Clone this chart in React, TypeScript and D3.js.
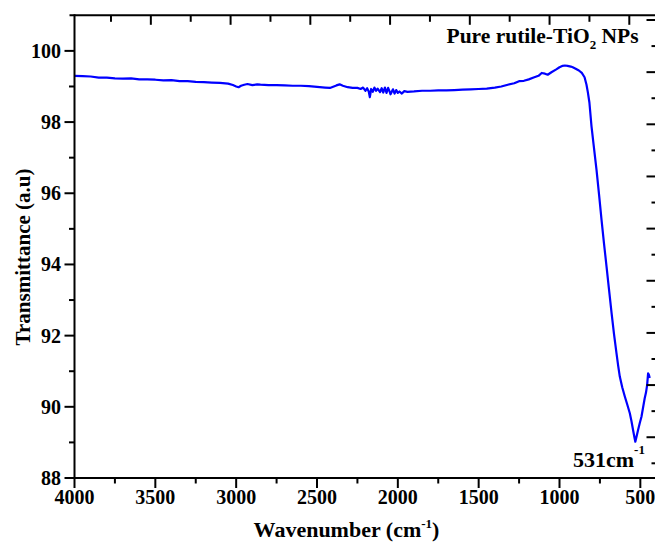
import React from "react";
import * as d3 from "d3";

const wavenumbers = [
  4000, 3950, 3900, 3850, 3800, 3750, 3700, 3650, 3600, 3550, 3500, 3450, 3400, 3350, 3300, 3250, 3200, 3150, 3100, 3050,
  3020, 3000, 2985, 2970, 2950, 2930, 2900, 2870, 2850, 2800, 2750, 2700, 2650, 2600, 2550, 2500, 2450, 2420, 2380, 2360,
  2340, 2310, 2280, 2250, 2230, 2215, 2200, 2190, 2180, 2173, 2165, 2155, 2145, 2135, 2125, 2110, 2100, 2090, 2080, 2070,
  2060, 2050, 2045, 2030, 2020, 2010, 2000, 1990, 1975, 1960, 1940, 1900, 1850, 1800, 1750, 1700, 1650, 1600, 1550, 1500,
  1450, 1400, 1360, 1320, 1280, 1250, 1220, 1190, 1160, 1130, 1110, 1090, 1073, 1050, 1020, 1000, 980, 967, 950, 930,
  918, 900, 880, 862, 845, 833, 825, 815, 802, 790, 771, 755, 740, 725, 709, 695, 678, 663, 648, 637,
  627, 612, 596, 580, 565, 555, 545, 537, 531, 524, 514, 503, 493, 483, 473, 465, 458, 452, 447, 442,
];
const transmittance = [
  99.30, 99.29, 99.28, 99.25, 99.25, 99.23, 99.22, 99.23, 99.20, 99.20, 99.19, 99.17, 99.18, 99.15, 99.15, 99.13, 99.12, 99.11, 99.10, 99.08,
  99.04, 99.00, 98.98, 99.02, 99.05, 99.07, 99.04, 99.06, 99.05, 99.04, 99.04, 99.03, 99.02, 99.02, 99.01, 98.99, 98.97, 98.96, 99.03, 99.06,
  99.02, 98.98, 98.96, 98.96, 98.93, 98.97, 98.88, 98.95, 98.86, 98.70, 98.93, 98.85, 98.97, 98.88, 98.94, 98.84, 98.95, 98.83, 98.97, 98.82,
  98.96, 98.85, 98.78, 98.92, 98.80, 98.90, 98.82, 98.86, 98.80, 98.87, 98.85, 98.86, 98.88, 98.88, 98.89, 98.89, 98.90, 98.91, 98.92, 98.93,
  98.94, 98.97, 99.00, 99.05, 99.09, 99.15, 99.16, 99.20, 99.25, 99.30, 99.38, 99.36, 99.33, 99.40, 99.48, 99.54, 99.58, 99.59, 99.58, 99.56,
  99.54, 99.50, 99.45, 99.38, 99.26, 99.05, 98.85, 98.55, 97.88, 97.40, 96.66, 95.95, 95.25, 94.60, 93.94, 93.35, 92.64, 92.05, 91.52, 91.15,
  90.85, 90.55, 90.29, 90.05, 89.82, 89.60, 89.35, 89.15, 89.02, 89.15, 89.35, 89.55, 89.72, 89.98, 90.24, 90.40, 90.61, 90.94, 90.90, 90.81,
];

const xMajorTicks = [4000, 3500, 3000, 2500, 2000, 1500, 1000, 500];
const xMinorTicks = [3750, 3250, 2750, 2250, 1750, 1250, 750];
const yMajorTicks = [88, 90, 92, 94, 96, 98, 100];
const yMinorTicks = [89, 91, 93, 95, 97, 99];
const topTicks = d3.range(1, 15);
const rightTicks = d3.range(0, 18);

const seriesLabel = "Pure rutile-TiO";
const peakLabel = "531cm";

export default function App() {
  const W = 655;
  const H = 542;
  const left = 74.5;
  const bottom = 478;
  const top = 15.3;
  const rightEdge = 656.5;

  const x = d3.scaleLinear().domain([4000, 400]).range([left, rightEdge]);
  const y = d3.scaleLinear().domain([88, 101]).range([bottom, top]);
  const xTop = d3.scaleLinear().domain([0, 14]).range([71.1, 629.3]);
  const yRight = d3.scaleLinear().domain([0, 17]).range([20, 463.3]);

  const pts: [number, number][] = wavenumbers.map((w, i) => [w, transmittance[i]]);
  const line = d3
    .line<[number, number]>()
    .x((d) => x(d[0]))
    .y((d) => y(d[1]))
    .curve(d3.curveLinear);

  const font = "'Liberation Serif', 'Times New Roman', serif";
  const tickW = 2;

  return (
    <svg
      width={W}
      height={H}
      style={{ position: "absolute", left: 0, top: 0, background: "#fff" }}
      fontFamily={font}
      fontWeight="bold"
    >
      <rect x={0} y={0} width={W} height={H} fill="#fff" />
      {/* data line */}
      <path d={line(pts) || ""} fill="none" stroke="#0000ff" strokeWidth={2.2} strokeLinejoin="round" />

      {/* frame */}
      <line x1={left} x2={W + 5} y1={bottom} y2={bottom} stroke="#000" strokeWidth={2} />
      <line x1={left - 5} x2={W + 5} y1={top} y2={top} stroke="#000" strokeWidth={2} />
      <line x1={left} x2={left} y1={top - 1} y2={bottom + 1} stroke="#000" strokeWidth={2} />
      <line x1={rightEdge} x2={rightEdge} y1={top} y2={bottom} stroke="#000" strokeWidth={2} />

      {/* bottom ticks */}
      {xMajorTicks.map((t) => (
        <g key={"xm" + t}>
          <line x1={x(t)} x2={x(t)} y1={bottom} y2={bottom + 10} stroke="#000" strokeWidth={tickW} />
          <text x={x(t)} y={503.5} textAnchor="middle" fontSize={20}>
            {t}
          </text>
        </g>
      ))}
      {xMinorTicks.map((t) => (
        <line key={"xn" + t} x1={x(t)} x2={x(t)} y1={bottom} y2={bottom + 5.5} stroke="#000" strokeWidth={tickW} />
      ))}

      {/* left ticks */}
      {yMajorTicks.map((t) => (
        <g key={"ym" + t}>
          <line x1={left - 10} x2={left} y1={y(t)} y2={y(t)} stroke="#000" strokeWidth={tickW} />
          <text x={61} y={y(t) + 7} textAnchor="end" fontSize={20}>
            {t}
          </text>
        </g>
      ))}
      {yMinorTicks.map((t) => (
        <line key={"yn" + t} x1={left - 5.5} x2={left} y1={y(t)} y2={y(t)} stroke="#000" strokeWidth={tickW} />
      ))}

      {/* top ticks (inward) */}
      {topTicks.map((k) => (
        <line
          key={"tt" + k}
          x1={xTop(k)}
          x2={xTop(k)}
          y1={top}
          y2={top + (k % 2 === 0 ? 9.5 : 6.5)}
          stroke="#000"
          strokeWidth={tickW}
        />
      ))}

      {/* right ticks (inward) */}
      {rightTicks.map((k) => (
        <line
          key={"rt" + k}
          x1={rightEdge}
          x2={rightEdge - (k % 2 === 0 ? 10 : 5)}
          y1={yRight(k)}
          y2={yRight(k)}
          stroke="#000"
          strokeWidth={tickW}
        />
      ))}

      {/* axis titles */}
      <text x={346.5} y={537} textAnchor="middle" fontSize={22}>
        Wavenumber (cm
        <tspan fontSize={13} dy={-9}>-1</tspan>
        <tspan dy={9}>)</tspan>
      </text>
      <text
        transform={`translate(30, ${257}) rotate(-90)`}
        textAnchor="middle"
        fontSize={21}
      >
        Transmittance (a.u)
      </text>

      {/* legend text */}
      <text x={446.5} y={43.3} fontSize={21.5}>
        {seriesLabel}
        <tspan fontSize={13} dy={6}>2</tspan>
        <tspan dy={-6}> NPs</tspan>
      </text>

      {/* peak annotation */}
      <text x={573} y={466.7} fontSize={22}>
        {peakLabel}
        <tspan fontSize={13} dy={-13}>-1</tspan>
      </text>
    </svg>
  );
}
